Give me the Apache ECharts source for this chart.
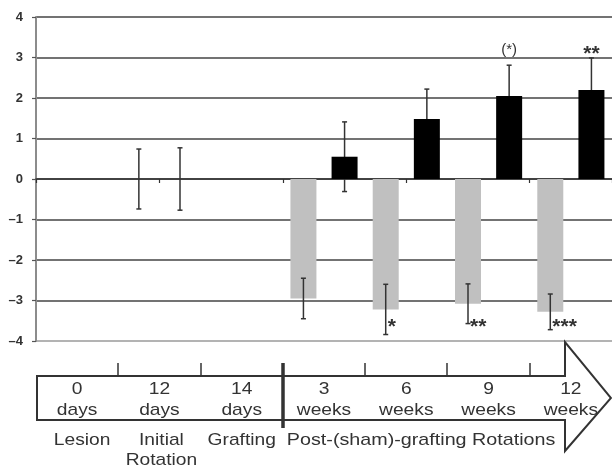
<!DOCTYPE html>
<html>
<head>
<meta charset="utf-8">
<script src="https://cdn.jsdelivr.net/npm/echarts@6/dist/echarts.min.js"></script>
<style>
html,body{margin:0;padding:0;background:#fff;}
#c{width:612px;height:469px;}
</style>
</head>
<body>
<div id="c"></div>
<script>
// ---- data ----
const periods = ['0 days', '12 days', '14 days', '3 weeks', '6 weeks', '9 weeks', '12 weeks'];
const periodLabels = ['0\ndays', '12\ndays', '14\ndays', '3\nweeks', '6\nweeks', '9\nweeks', '12\nweeks'];
const stageLabels = ['Lesion', 'Initial\nRotation', 'Grafting', 'Post-(sham)-grafting Rotations'];
const shamValues = [null, 0, null, -2.95, -3.22, -3.08, -3.28];
const shamErrors = [null, 0.74, null, 0.50, 0.62, 0.49, 0.44];
const graftValues = [null, 0, null, 0.55, 1.48, 2.05, 2.20];
const graftErrors = [null, 0.77, null, 0.86, 0.74, 0.76, 0.79];
const shamSig = ['', '', '', '', '*', '**', '***'];
const graftSig = ['', '', '', '', '', '(*)', '**'];
const yTickLabels = ['-4', '-3', '-2', '-1', '0', '1', '2', '3', '4'];

// ---- derived ----
const categories = periods.flatMap(p => [p + ' sham', p + ' graft']);
const shamBar = categories.map((c, i) => (i % 2 === 0 ? shamValues[i / 2] : null));
const graftBar = categories.map((c, i) => (i % 2 === 1 ? graftValues[(i - 1) / 2] : null));

const shamItems = [];
const graftItems = [];
periods.forEach((p, k) => {
  if (shamErrors[k] != null) shamItems.push({ slot: 2 * k, value: shamValues[k], err: shamErrors[k], sig: shamSig[k] });
  if (graftErrors[k] != null) graftItems.push({ slot: 2 * k + 1, value: graftValues[k], err: graftErrors[k], sig: graftSig[k] });
});
const graftTopMax = Math.max(...graftItems.map(d => d.value + d.err));
const shamBottomMin = Math.min(...shamItems.map(d => d.value - d.err));

const FONT = '"Liberation Sans", Arial, sans-serif';
const INK = '#333';

function errRender(items, side) {
  return function (params, api) {
    const d = items[params.dataIndex];
    const top = api.coord([d.slot, d.value + d.err]);
    const bot = api.coord([d.slot, d.value - d.err]);
    const x = top[0];
    const ls = { stroke: INK, lineWidth: 1.5 };
    const children = [
      { type: 'line', shape: { x1: x, y1: top[1], x2: x, y2: bot[1] }, style: ls },
      { type: 'line', shape: { x1: x - 2.5, y1: top[1], x2: x + 2.5, y2: top[1] }, style: ls },
      { type: 'line', shape: { x1: x - 2.5, y1: bot[1], x2: x + 2.5, y2: bot[1] }, style: ls }
    ];
    if (d.sig) {
      if (side === 'graft') {
        const ry = api.coord([d.slot, graftTopMax])[1];
        const big = d.sig.indexOf('(') < 0;
        children.push({
          type: 'text',
          style: { text: d.sig, x: x, y: big ? ry - 4 : ry - 1, fill: INK,
                   font: (big ? 'bold 21px ' : '15px ') + FONT, align: 'center', verticalAlign: big ? 'middle' : 'bottom' }
        });
      } else {
        const ry = api.coord([d.slot, shamBottomMin])[1];
        children.push({
          type: 'text',
          style: { text: d.sig, x: x + 2, y: ry - 7, fill: INK,
                   font: 'bold 21px ' + FONT, align: 'left', verticalAlign: 'middle' }
        });
      }
    }
    return { type: 'group', children };
  };
}

const chart = echarts.init(document.getElementById('c'), null, { renderer: 'canvas' });
chart.setOption({
  animation: false,
  backgroundColor: '#fff',
  grid: { left: 36, top: 17, width: 579, height: 324, containLabel: false },
  xAxis: {
    type: 'category',
    data: categories,
    axisLine: { onZero: true, lineStyle: { color: INK, width: 1.5 } },
    axisTick: { show: true, length: 4, lineStyle: { color: INK, width: 1.2 } },
    axisLabel: { show: false },
    splitLine: { show: false }
  },
  yAxis: {
    type: 'value',
    min: -4, max: 4, interval: 1,
    axisLine: { show: true, lineStyle: { color: '#8c8c8c', width: 2 } },
    axisTick: { show: true, length: 4, lineStyle: { color: '#555', width: 1.2 } },
    axisLabel: {
      color: INK, fontWeight: 'bold', fontSize: 13, fontFamily: FONT, margin: 13,
      formatter: v => yTickLabels[v + 4].replace('-', '\u2013')
    },
    splitLine: { show: true, lineStyle: { color: ['#9a9a9a', '#444', '#444', '#444', '#444', '#444', '#444', '#444', '#444'], width: 1.5 } }
  },
  series: [
    { name: 'sham', type: 'bar', data: shamBar, barWidth: 26, barGap: '-100%', itemStyle: { color: '#c0c0c0' }, z: 2 },
    { name: 'graft', type: 'bar', data: graftBar, barWidth: 26, barGap: '-100%', itemStyle: { color: '#000' }, z: 3 },
    { name: 'sham err', type: 'custom', data: shamItems.map(d => [d.slot, d.value]), renderItem: errRender(shamItems, 'sham'), z: 5 },
    { name: 'graft err', type: 'custom', data: graftItems.map(d => [d.slot, d.value]), renderItem: errRender(graftItems, 'graft'), z: 2 }
  ]
});

// ---- timeline diagram below the chart ----
const slotX = categories.map(c => chart.convertToPixel({ xAxisIndex: 0 }, c));
const slotW = slotX[1] - slotX[0];
const centers = periods.map((p, k) => (slotX[2 * k] + slotX[2 * k + 1]) / 2);
const bounds = periods.map((p, k) => slotX[2 * k] - slotW / 2);
const rTop = 376, rBot = 420, rLeft = 37, shaftEnd = 565;
const headTop = 342, headBot = 451, tipX = 611;
const g = [];
g.push({
  type: 'polygon', z: 10,
  shape: { points: [[rLeft, rTop], [shaftEnd, rTop], [shaftEnd, headTop], [tipX, (rTop + rBot) / 2], [shaftEnd, headBot], [shaftEnd, rBot], [rLeft, rBot]] },
  style: { fill: '#fff', stroke: INK, lineWidth: 2 }
});
for (let k = 1; k < periods.length; k++) {
  const bx = Math.round(bounds[k]);
  if (k === 3) {
    g.push({ type: 'line', z: 11, shape: { x1: bx, y1: 363, x2: bx, y2: 428 }, style: { stroke: INK, lineWidth: 3.5 } });
  } else {
    g.push({ type: 'line', z: 11, shape: { x1: bx, y1: 363, x2: bx, y2: rTop }, style: { stroke: INK, lineWidth: 1.5 } });
  }
}
periodLabels.forEach((t, k) => {
  g.push({ type: 'text', z: 12, x: centers[k], y: 400, scaleX: 1.13,
    style: { text: t, x: 0, y: 0, fill: INK, font: '17px ' + FONT, align: 'center', verticalAlign: 'middle', lineHeight: 21 } });
});
const stageX = [centers[0] + 5, centers[1] + 2, centers[2]];
stageLabels.slice(0, 3).forEach((t, k) => {
  g.push({ type: 'text', z: 12, x: stageX[k], y: 430, scaleX: 1.13,
    style: { text: t, x: 0, y: 0, fill: INK, font: '17px ' + FONT, align: 'center', verticalAlign: 'top', lineHeight: 20 } });
});
g.push({ type: 'text', z: 12, x: bounds[3] + 4, y: 430, scaleX: 1.16,
  style: { text: stageLabels[3], x: 0, y: 0, fill: INK, font: '17px ' + FONT, align: 'left', verticalAlign: 'top', lineHeight: 20 } });
chart.setOption({ graphic: g });
</script>
</body>
</html>
